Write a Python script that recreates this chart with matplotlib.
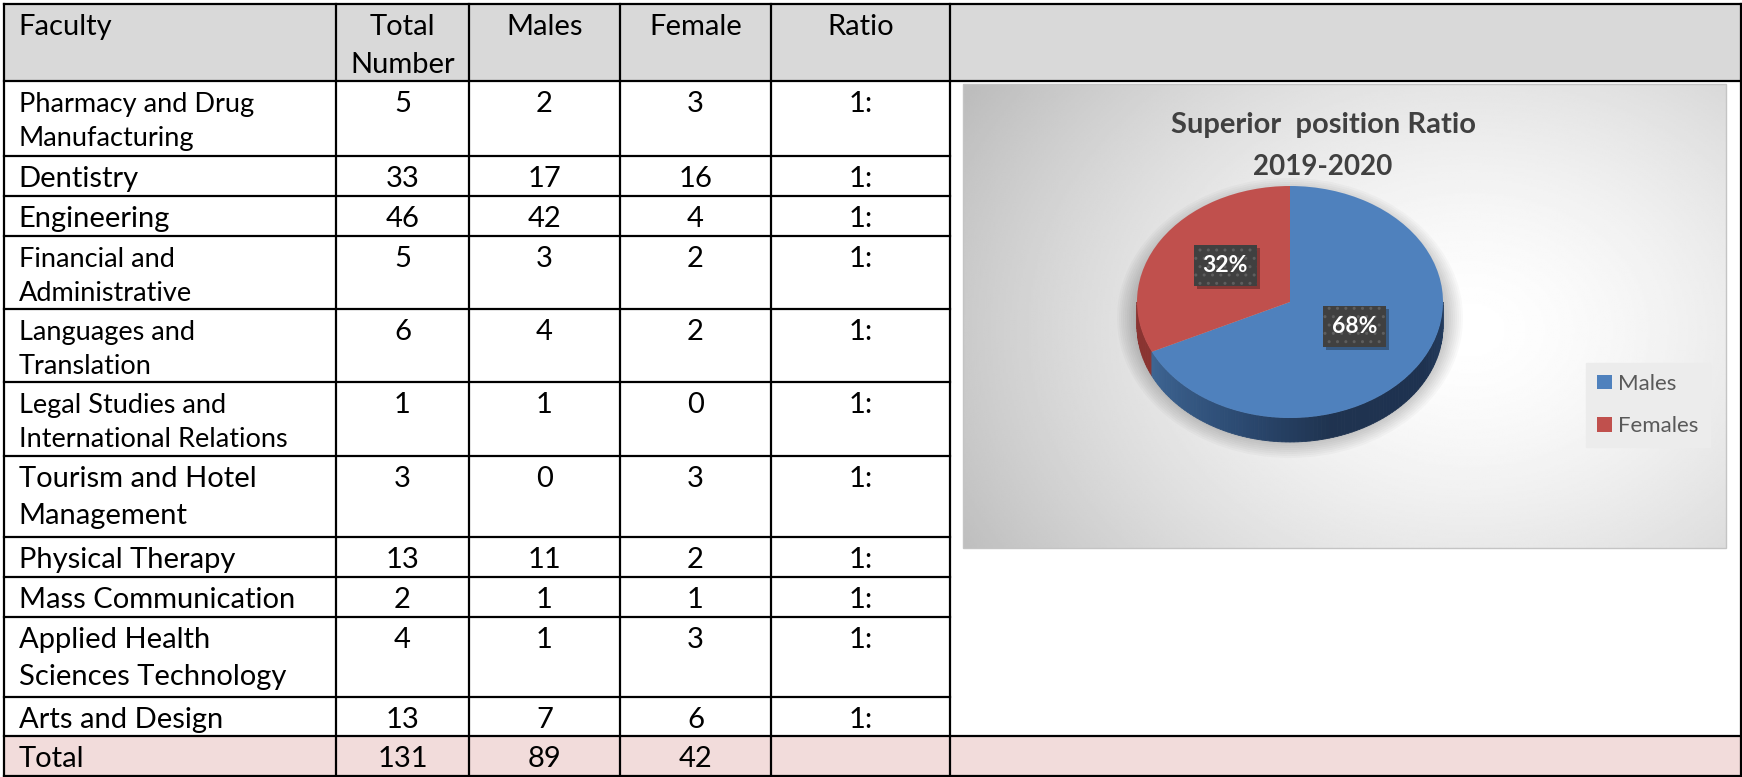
import matplotlib
matplotlib.use("Agg")
import matplotlib.pyplot as plt
import numpy as np
from matplotlib.patches import Rectangle, Polygon, Ellipse
from matplotlib.colors import to_rgb

plt.rcParams['font.family'] = ['Lato', 'DejaVu Sans']

# table data
HEADERS = ["Faculty", "Total\nNumber", "Males", "Female", "Ratio"]
FACULTIES = [
    "Pharmacy and Drug\nManufacturing",
    "Dentistry",
    "Engineering",
    "Financial and\nAdministrative",
    "Languages and\nTranslation",
    "Legal Studies and\nInternational Relations",
    "Tourism and Hotel\nManagement",
    "Physical Therapy",
    "Mass Communication",
    "Applied Health\nSciences Technology",
    "Arts and Design",
]
TOTALS = [5, 33, 46, 5, 6, 1, 3, 13, 2, 4, 13]
MALES = [2, 17, 42, 3, 4, 1, 0, 11, 1, 1, 7]
FEMALES = [3, 16, 4, 2, 2, 0, 3, 2, 1, 3, 6]
RATIOS = ["1:"] * len(FACULTIES)

# pie data
PIE_LABELS = ["Males", "Females"]
PIE_VALUES = [sum(MALES), sum(FEMALES)]
PIE_COLORS = ["#4f81bd", "#c0504d"]
PIE_TITLE = ["Superior  position Ratio", "2019-2020"]

# layout (pixels, y going down)
W, H = 1742, 777
COL_EDGES = [3.5, 336, 469, 620, 771, 950, 1741]
ROW_EDGES = [4, 81, 156, 196, 236, 309, 382, 456, 537, 577, 617, 697, 736, 776]
SMALL_ROWS = {0, 3, 4, 5}
BIG = 21
SMALL = 19.5
LW = 1.6

fig = plt.figure(figsize=(W / 100, H / 100), dpi=100)
ax = fig.add_axes([0, 0, 1, 1])
ax.set_xlim(0, W)
ax.set_ylim(H, 0)
ax.axis("off")

# backgrounds
ax.add_patch(Rectangle((COL_EDGES[0], ROW_EDGES[0]), COL_EDGES[-1] - COL_EDGES[0],
                       ROW_EDGES[1] - ROW_EDGES[0], fc="#d9d9d9", ec="none", zorder=0))
ax.add_patch(Rectangle((COL_EDGES[0], ROW_EDGES[-2]), COL_EDGES[-1] - COL_EDGES[0],
                       ROW_EDGES[-1] - ROW_EDGES[-2], fc="#f2dcdb", ec="none", zorder=0))

# grid lines
for y in ROW_EDGES:
    full = y in (ROW_EDGES[0], ROW_EDGES[1], ROW_EDGES[-2], ROW_EDGES[-1])
    ax.plot([COL_EDGES[0], COL_EDGES[-1] if full else COL_EDGES[5]], [y, y],
            color="black", lw=LW, solid_capstyle="projecting", zorder=5)
for x in COL_EDGES:
    ax.plot([x, x], [ROW_EDGES[0], ROW_EDGES[-1]], color="black", lw=LW,
            solid_capstyle="projecting", zorder=5)


def cell_text(col, top, text, size, pitch=36):
    if col == 0:
        x, ha = COL_EDGES[0] + 15, "left"
    else:
        x, ha = (COL_EDGES[col] + COL_EDGES[col + 1]) / 2, "center"
    for i, line in enumerate(str(text).split("\n")):
        ax.text(x, top + 31 + i * pitch, line, ha=ha, va="baseline",
                fontsize=size, color="black", zorder=6)


for c, h in enumerate(HEADERS):
    cell_text(c, ROW_EDGES[0], h, BIG, pitch=38)

for r, fac in enumerate(FACULTIES):
    top = ROW_EDGES[r + 1]
    small = r in SMALL_ROWS
    cell_text(0, top, fac, SMALL if small else BIG, pitch=34 if small else 37)
    cell_text(1, top, TOTALS[r], BIG)
    cell_text(2, top, MALES[r], BIG)
    cell_text(3, top, FEMALES[r], BIG)
    cell_text(4, top, RATIOS[r], BIG)

top = ROW_EDGES[-2]
cell_text(0, top, "Total", BIG)
cell_text(1, top, sum(TOTALS), BIG)
cell_text(2, top, sum(MALES), BIG)
cell_text(3, top, sum(FEMALES), BIG)

# chart area background
CX0, CX1, CY0, CY1 = 963, 1726, 84, 548
gx = np.linspace(CX0, CX1, 400)
gy = np.linspace(CY0, CY1, 250)
GX, GY = np.meshgrid(gx, gy)
rr = np.sqrt(((GX - 1470) / 560) ** 2 + ((GY - 330) / 430) ** 2)
shade = 1 - 0.24 * np.clip(rr, 0, 1.05) ** 1.5
ax.imshow(shade, cmap="gray", vmin=0, vmax=1, extent=(CX0, CX1, CY1, CY0),
          aspect="auto", interpolation="bilinear", zorder=1)
ax.add_patch(Rectangle((CX0, CY0), CX1 - CX0, CY1 - CY0, fc="none", ec="#c4c4c4",
                       lw=1, zorder=2))
ax.set_xlim(0, W)
ax.set_ylim(H, 0)

# soft shadow under the pie
PCX, PCY, RX, RY = 1290, 302, 153, 116
for k in range(10):
    ax.add_patch(Ellipse((PCX, PCY + 16), 2 * (RX + 20 - 2 * k), 2 * (RY + 24 - 2 * k),
                         fc="black", ec="none", alpha=0.025, zorder=2))

for i, line in enumerate(PIE_TITLE):
    ax.text(1323, 125 + i * 42, line, ha="center", va="center",
            fontsize=21 if i == 0 else 20, fontweight="bold", color="#404040", zorder=6)

# pie axes (elliptic 3D look)
pw, ph = 2.5 * RX, 2.5 * RY
pax = fig.add_axes([(PCX - pw / 2) / W, (H - PCY - ph / 2) / H, pw / W, ph / H])
pax.patch.set_visible(False)

depth = 24 / RY
split = 90 - 360 * PIE_VALUES[0] / sum(PIE_VALUES) + 360
keys = [(split, "#3e6593"), (250, "#2c4b73"), (285, "#1f3350"), (330, "#1e3250"), (360, "#243d5f")]
ka = [k[0] for k in keys]
kc = np.array([to_rgb(k[1]) for k in keys])
angs = np.arange(180, 360.1, 1.5)
for a0, a1 in zip(angs[:-1], angs[1:]):
    if a0 < split:
        col = "#8a3431"
    else:
        am = (a0 + a1) / 2
        col = tuple(np.interp(am, ka, kc[:, j]) for j in range(3))
    t0, t1 = np.radians(a0), np.radians(a1)
    pts = [(np.cos(t0), np.sin(t0)), (np.cos(t1), np.sin(t1)),
           (np.cos(t1), np.sin(t1) - depth), (np.cos(t0), np.sin(t0) - depth)]
    pax.add_patch(Polygon(pts, closed=True, fc=col, ec=col, lw=0.6, zorder=1))

wedges, texts, autotexts = pax.pie(PIE_VALUES, colors=PIE_COLORS, startangle=90,
                                   counterclock=False, autopct="%.0f%%", pctdistance=0.5,
                                   wedgeprops=dict(linewidth=0, zorder=3))
pax.set_aspect("auto")
pax.set_xlim(-1.25, 1.25)
pax.set_ylim(-1.25, 1.25)

# dark label boxes (63 x 41 px) with a small drop shadow
bw, bh = 63 / RX, 41 / RY
for t in autotexts:
    tx, ty = t.get_position()
    ty += 6 / RY
    t.set_position((tx, ty))
    t.set_color("white")
    t.set_fontweight("bold")
    t.set_fontsize(16.5)
    t.set_zorder(8)
    pax.add_patch(Rectangle((tx - bw / 2 + 3 / RX, ty - bh / 2 - 3 / RY), bw, bh,
                            fc="black", ec="none", alpha=0.3, zorder=6))
    pax.add_patch(Rectangle((tx - bw / 2, ty - bh / 2), bw, bh, fc="#404040",
                            ec="#5e5e5e", lw=0, hatch="..", zorder=7))

leg = pax.legend(wedges, PIE_LABELS, loc="center left",
                 bbox_to_anchor=(1586 / W, 1 - 405 / H), bbox_transform=fig.transFigure,
                 fontsize=16, frameon=True, fancybox=False, borderaxespad=0,
                 borderpad=0.5, handletextpad=0.3, handlelength=0.65, handleheight=0.65,
                 labelspacing=1.0, labelcolor="#595959")
leg.get_frame().set_facecolor("#ececec")
leg.get_frame().set_edgecolor("#ececec")
leg.get_frame().set_alpha(1)

fig.savefig("out.png", dpi=100)
